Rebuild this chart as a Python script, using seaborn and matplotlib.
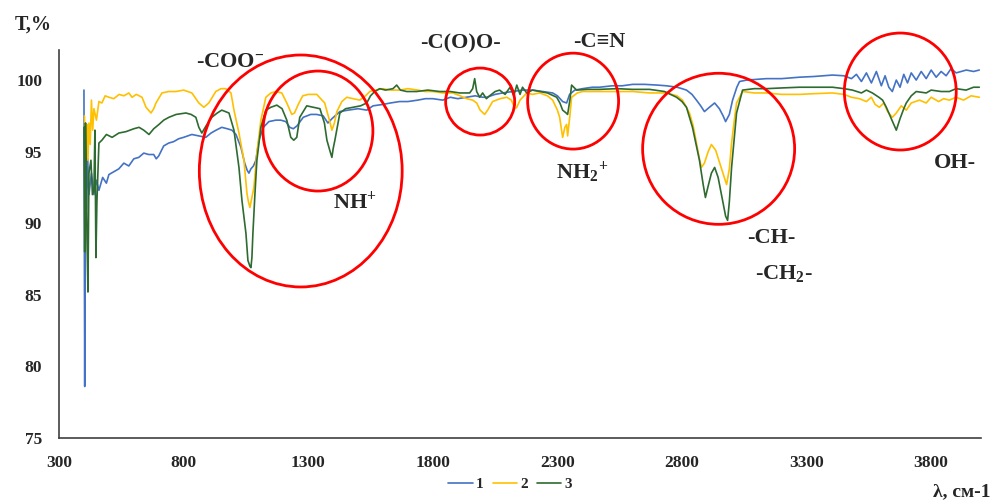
import pandas as pd
import seaborn as sns
import matplotlib.pyplot as plt
from matplotlib.patches import Ellipse

# Spectra (x in cm-1, T in %)
x1 = [400, 403, 406, 410, 415, 420, 430, 440, 450, 460, 475, 490, 500, 520, 540, 560, 580, 600, 620, 640,
      660, 680, 690, 700, 720, 740, 760, 780, 800, 833, 860, 889, 910, 930, 953, 975, 994, 1010, 1030, 1045,
      1055, 1062, 1070, 1080, 1090, 1102, 1120, 1142, 1170, 1190, 1210, 1226, 1240, 1255, 1280, 1310, 1334, 1360, 1379, 1395,
      1427, 1460, 1500, 1535, 1560, 1600, 1630, 1667, 1700, 1740, 1770, 1800, 1840, 1870, 1900, 1936, 1970, 2000, 2016, 2050,
      2080, 2121, 2160, 2201, 2240, 2281, 2300, 2321, 2337, 2349, 2370, 2401, 2440, 2469, 2520, 2560, 2602, 2650, 2700, 2738,
      2780, 2800, 2818, 2840, 2858, 2875, 2890, 2910, 2931, 2950, 2965, 2975, 2990, 3003, 3020, 3031, 3060, 3100, 3139, 3200,
      3271, 3330, 3404, 3450, 3480, 3500, 3520, 3540, 3560, 3580, 3600, 3615, 3630, 3644, 3660, 3675, 3690, 3705, 3720, 3740,
      3760, 3780, 3800, 3820, 3840, 3860, 3880, 3900, 3941, 3970, 3993]
y1 = [99.3, 78.6, 97.0, 91.0, 94.5, 92.0, 93.5, 92.0, 93.0, 92.3, 93.2, 92.8, 93.4, 93.6, 93.8, 94.2, 94.0, 94.5, 94.6, 94.9,
      94.8, 94.8, 94.5, 94.7, 95.4, 95.6, 95.7, 95.9, 96.0, 96.2, 96.1, 96.0, 96.3, 96.5, 96.7, 96.6, 96.5, 96.2, 95.3, 94.2,
      93.7, 93.5, 93.8, 94.0, 94.4, 95.8, 96.7, 97.1, 97.2, 97.2, 97.1, 96.7, 96.6, 96.8, 97.4, 97.6, 97.6, 97.5, 97.0, 97.3,
      97.8, 97.9, 98.0, 97.9, 98.2, 98.3, 98.4, 98.5, 98.5, 98.6, 98.7, 98.7, 98.6, 98.8, 98.7, 98.8, 98.9, 98.8, 98.8, 99.0,
      99.1, 99.2, 99.3, 99.3, 99.2, 99.1, 98.9, 98.5, 98.4, 99.0, 99.3, 99.4, 99.5, 99.5, 99.6, 99.6, 99.7, 99.7, 99.65, 99.6,
      99.5, 99.4, 99.3, 99.0, 98.6, 98.2, 97.8, 98.1, 98.4, 98.0, 97.5, 97.1, 97.6, 98.6, 99.5, 99.9, 100.0, 100.05, 100.1, 100.1,
      100.2, 100.25, 100.35, 100.3, 100.1, 100.4, 99.9, 100.5, 99.8, 100.6, 99.6, 100.3, 99.5, 99.2, 100.0, 99.5, 100.4, 99.8, 100.5, 100.0,
      100.6, 100.1, 100.7, 100.2, 100.6, 100.3, 100.8, 100.5, 100.7, 100.6, 100.7]

x2 = [402, 406, 408, 412, 416, 420, 425, 430, 435, 440, 450, 460, 472, 485, 500, 520, 541, 560, 580, 593,
      610, 633, 649, 669, 680, 689, 713, 740, 769, 800, 833, 861, 881, 901, 929, 950, 969, 990, 1002, 1022,
      1042, 1054, 1060, 1066, 1074, 1082, 1094, 1110, 1130, 1150, 1170, 1194, 1214, 1234, 1245, 1260, 1278, 1300, 1334, 1366,
      1385, 1395, 1405, 1415, 1435, 1455, 1480, 1507, 1530, 1547, 1570, 1599, 1630, 1667, 1700, 1740, 1770, 1800, 1840, 1880,
      1910, 1936, 1960, 1976, 1990, 2008, 2020, 2040, 2070, 2097, 2115, 2130, 2137, 2150, 2177, 2200, 2229, 2260, 2281, 2300,
      2309, 2321, 2330, 2337, 2341, 2350, 2357, 2380, 2401, 2469, 2540, 2602, 2670, 2738, 2780, 2802, 2830, 2845, 2858, 2870,
      2878, 2890, 2905, 2918, 2935, 2955, 2970, 2979, 2990, 2999, 3010, 3019, 3043, 3090, 3139, 3200, 3271, 3330, 3404, 3450,
      3480, 3512, 3540, 3560, 3575, 3592, 3610, 3625, 3644, 3660, 3680, 3700, 3720, 3753, 3780, 3800, 3830, 3850, 3873, 3900,
      3930, 3960, 3993]
y2 = [97.5, 94.0, 95.6, 96.9, 94.4, 97.0, 95.5, 98.6, 96.5, 98.0, 97.2, 98.5, 98.4, 98.9, 98.8, 98.7, 99.0, 98.9, 99.1, 98.8,
      99.0, 98.8, 98.1, 97.7, 98.0, 98.4, 99.1, 99.2, 99.2, 99.3, 99.1, 98.4, 98.1, 98.4, 99.2, 99.4, 99.4, 99.1, 97.9, 96.3,
      94.4, 92.1, 91.5, 91.1, 91.8, 92.5, 94.9, 97.2, 98.8, 99.1, 99.2, 99.1, 98.4, 97.6, 97.7, 98.3, 98.9, 99.0, 99.0, 98.4,
      97.2, 96.5, 97.0, 97.8, 98.5, 98.8, 98.7, 98.6, 98.9, 99.2, 99.3, 99.4, 99.3, 99.3, 99.4, 99.3, 99.2, 99.2, 99.1, 99.1,
      98.9, 98.7, 98.6, 98.4, 97.9, 97.6, 97.9, 98.5, 98.7, 98.8, 98.6, 98.0, 98.1, 98.6, 99.1, 99.0, 99.1, 98.9, 98.6, 97.9,
      97.4, 96.0, 96.7, 96.9, 96.1, 97.5, 98.8, 99.1, 99.2, 99.2, 99.2, 99.2, 99.1, 99.1, 98.9, 98.6, 97.7, 96.8, 95.6, 94.5,
      93.9, 94.2, 95.0, 95.5, 95.1, 94.0, 93.2, 92.7, 93.8, 95.6, 97.2, 98.4, 99.2, 99.1, 99.1, 99.0, 99.0, 99.05, 99.1, 99.0,
      98.8, 98.7, 98.5, 98.8, 98.3, 98.1, 98.4, 97.8, 97.4, 97.7, 98.2, 97.9, 98.4, 98.6, 98.4, 98.8, 98.5, 98.7, 98.6, 98.8,
      98.6, 98.9, 98.8]

x3 = [400, 403, 406, 410, 412, 416, 420, 428, 434, 440, 444, 448, 452, 460, 472, 490, 513, 540, 569, 600,
      621, 640, 661, 680, 701, 720, 741, 770, 809, 830, 849, 861, 873, 890, 913, 935, 953, 982, 1002, 1022,
      1034, 1050, 1058, 1066, 1070, 1074, 1078, 1086, 1094, 1110, 1130, 1150, 1174, 1195, 1214, 1230, 1242, 1254, 1266, 1294,
      1320, 1347, 1365, 1375, 1388, 1395, 1400, 1407, 1427, 1450, 1479, 1510, 1535, 1550, 1567, 1587, 1610, 1640, 1655, 1670,
      1695, 1735, 1780, 1828, 1870, 1908, 1948, 1960, 1968, 1976, 1988, 2000, 2015, 2028, 2050, 2068, 2090, 2110, 2125, 2137,
      2150, 2160, 2177, 2200, 2229, 2260, 2297, 2310, 2321, 2335, 2341, 2350, 2357, 2377, 2420, 2469, 2540, 2600, 2670, 2730,
      2778, 2800, 2818, 2842, 2870, 2885, 2894, 2905, 2918, 2931, 2945, 2963, 2975, 2983, 2990, 2999, 3010, 3019, 3043, 3090,
      3139, 3200, 3271, 3330, 3404, 3450, 3484, 3520, 3540, 3564, 3590, 3605, 3620, 3640, 3660, 3675, 3690, 3700, 3720, 3740,
      3780, 3800, 3840, 3873, 3900, 3940, 3970, 3993]
y3 = [96.7, 88.0, 97.0, 93.0, 89.0, 85.2, 93.5, 94.4, 92.0, 92.3, 96.5, 87.6, 91.5, 95.6, 95.8, 96.2, 96.0, 96.3, 96.4, 96.6,
      96.7, 96.5, 96.2, 96.6, 96.9, 97.2, 97.4, 97.6, 97.7, 97.6, 97.4, 96.7, 96.3, 96.8, 97.4, 97.7, 97.9, 97.7, 96.5, 93.9,
      91.6, 89.3, 87.4, 87.0, 86.9, 87.6, 89.3, 92.0, 94.4, 96.7, 97.9, 98.1, 98.25, 98.0, 97.2, 96.0, 95.8, 96.0, 97.4, 98.2,
      98.1, 98.0, 97.0, 95.8, 95.0, 94.6, 95.2, 95.8, 97.7, 98.0, 98.1, 98.2, 98.4, 98.9, 99.2, 99.4, 99.3, 99.4, 99.65, 99.3,
      99.2, 99.2, 99.3, 99.2, 99.2, 99.1, 99.1, 99.4, 100.1, 99.2, 98.8, 99.1, 98.7, 98.9, 99.2, 99.3, 99.0, 99.5, 98.9, 99.65,
      99.0, 99.5, 99.1, 99.3, 99.2, 99.1, 98.8, 98.4, 97.9, 97.7, 97.6, 98.6, 99.65, 99.3, 99.35, 99.35, 99.4, 99.35, 99.35, 99.2,
      98.8, 98.5, 98.1, 96.7, 94.4, 92.7, 91.8, 92.6, 93.5, 93.9, 93.2, 91.6, 90.5, 90.2, 91.5, 93.9, 96.0, 97.7, 99.3, 99.4,
      99.4, 99.45, 99.5, 99.5, 99.5, 99.4, 99.3, 99.1, 99.3, 99.1, 98.8, 98.6, 98.1, 97.3, 96.5, 97.3, 98.0, 98.4, 98.9, 99.2,
      99.1, 99.3, 99.2, 99.2, 99.4, 99.3, 99.5, 99.5]

series_names = ['1', '2', '3']
colors = ['#4472C4', '#FFC000', '#2E6B30']
x_ticks = [300, 800, 1300, 1800, 2300, 2800, 3300, 3800]
y_ticks = [75, 80, 85, 90, 95, 100]

df = pd.concat([
    pd.DataFrame({'wn': x1, 'T': y1, 'sample': '1'}),
    pd.DataFrame({'wn': x2, 'T': y2, 'sample': '2'}),
    pd.DataFrame({'wn': x3, 'T': y3, 'sample': '3'}),
], ignore_index=True)

sns.set_theme(style='white')
plt.rcParams['font.family'] = ['Liberation Serif', 'DejaVu Serif']
plt.rcParams['font.weight'] = 'bold'
plt.rcParams['mathtext.fontset'] = 'custom'
plt.rcParams['mathtext.rm'] = 'Liberation Serif:bold'
plt.rcParams['mathtext.bf'] = 'Liberation Serif:bold'
plt.rcParams['mathtext.it'] = 'Liberation Serif:bold'

fig = plt.figure(figsize=(9.99, 5.01), dpi=100)
ax = fig.add_axes([0.0591, 0.1257, 0.9229, 0.7745])

sns.lineplot(data=df, x='wn', y='T', hue='sample', hue_order=series_names,
             palette=colors, estimator=None, sort=False, lw=1.2, ax=ax)

ax.set_xlim(300, 4000)
ax.set_ylim(75, 102.1)
ax.set_xticks(x_ticks)
ax.set_yticks(y_ticks)
ax.set_xlabel('')
ax.set_ylabel('')
ax.tick_params(length=0, pad=12, labelsize=12.5)
for lab in ax.get_xticklabels() + ax.get_yticklabels():
    lab.set_fontweight('bold')
for side in ['top', 'right']:
    ax.spines[side].set_visible(False)
for side in ['left', 'bottom']:
    ax.spines[side].set_color('#404040')
    ax.spines[side].set_linewidth(1.2)

# red circles around the bands
circles = [(1270, 93.65, 814, 16.2), (1339, 96.44, 441, 8.38), (1990, 98.5, 277, 4.68),
           (2363, 98.53, 365, 6.7), (2947, 95.2, 610, 10.55), (3676, 99.2, 449, 8.17)]
for cx, cy, w, h in circles:
    ax.add_patch(Ellipse((cx, cy), w, h, fill=False, ec='#FF0000', lw=2, clip_on=False, zorder=5))

# band labels
labels = [(986, 101.26, '-COO$^{-}$'), (1487, 91.48, 'NH$^{+}$'), (1912, 102.58, '-C(O)O-'),
          (2469, 102.65, '-C≡N'), (2397, 93.58, 'NH$_{2}$$^{+}$'), (3159, 88.97, '-CH-'),
          (3211, 86.52, '-CH$_{2}$-'), (3897, 94.2, 'OH-')]
for lx, ly, txt in labels:
    ax.text(lx, ly, txt, ha='center', va='center', fontsize=16, fontweight='bold')

fig.text(33 / 999, 1 - 25 / 501, 'T,%', ha='center', va='center', fontsize=14.5, fontweight='bold')
fig.text(962 / 999, 1 - 492 / 501, 'λ, см-1', ha='center', va='center', fontsize=14, fontweight='bold')

handles, names = ax.get_legend_handles_labels()
ax.get_legend().remove()
fig.legend(handles, names, loc='center', bbox_to_anchor=(510 / 999, 1 - 484 / 501), ncol=3,
           frameon=False, fontsize=11, handlelength=1.6, handletextpad=0.2, columnspacing=0.6)

fig.savefig('out.png', dpi=100)
